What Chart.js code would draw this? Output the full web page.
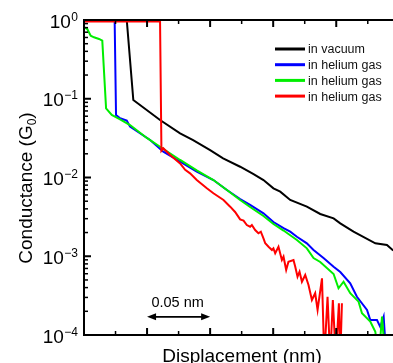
<!DOCTYPE html>
<html>
<head>
<meta charset="utf-8">
<script src="https://cdn.jsdelivr.net/npm/chart.js@4.4.1/dist/chart.umd.min.js"></script>
<style>
  html, body { margin: 0; padding: 0; background: #fff; overflow: hidden; }
  #chart { display: block; }
</style>
</head>
<body>
<canvas id="chart" width="393" height="363"></canvas>
<script>
// Displacement (nm) and conductance (G0)
const vacuumX = [0, 0.0339, 0.0391, 0.0603, 0.0762, 0.0865, 0.1000, 0.1103, 0.1238, 0.1341, 0.1423, 0.1502, 0.1556, 0.1635, 0.1767, 0.1873, 0.1979, 0.2032, 0.2137, 0.2310, 0.2402, 0.2452, 0.2508];
const vacuumG = [1, 1, 0.0964, 0.0537, 0.0364, 0.0299, 0.0223, 0.0175, 0.0137, 0.0111, 0.00929, 0.00729, 0.00661, 0.00518, 0.00426, 0.00344, 0.00303, 0.00262, 0.00205, 0.00146, 0.00139, 0.00118, 0.00100];

const heliumBlueX = [0, 0.0243, 0.0254, 0.0286, 0.0339, 0.0365, 0.0524, 0.0629, 0.0762, 0.0894, 0.1026, 0.1133, 0.1238, 0.1317, 0.1423, 0.1502, 0.1582, 0.1635, 0.1688, 0.1767, 0.1820, 0.1899, 0.1979, 0.2032, 0.2111, 0.2164, 0.2244, 0.2270, 0.2323, 0.2349, 0.2376, 0.2397];
const heliumBlueG = [1, 1, 0.0622, 0.0565, 0.0530, 0.0442, 0.0299, 0.0213, 0.0159, 0.0119, 0.00929, 0.00694, 0.00533, 0.00448, 0.00351, 0.00272, 0.00228, 0.00205, 0.00177, 0.00146, 0.00120, 0.000950, 0.000737, 0.000631, 0.000454, 0.000306, 0.000208, 0.000155, 0.000155, 0.000127, 0.000171, 0.00005];

const heliumGreenX = [0, 0.0026, 0.0053, 0.0079, 0.0119, 0.0145, 0.0175, 0.0220, 0.0286, 0.0365, 0.0498, 0.0603, 0.0762, 0.0894, 0.1026, 0.1133, 0.1238, 0.1317, 0.1423, 0.1502, 0.1582, 0.1688, 0.1767, 0.1820, 0.1873, 0.1979, 0.2018, 0.2058, 0.2111, 0.2177, 0.2204, 0.2270, 0.2310, 0.2336, 0.2363, 0.2389];
const heliumGreenG = [0.815, 0.768, 0.632, 0.603, 0.574, 0.546, 0.0756, 0.0622, 0.0548, 0.0464, 0.0318, 0.0246, 0.0167, 0.0123, 0.00929, 0.00694, 0.00518, 0.00422, 0.00324, 0.00257, 0.00212, 0.00161, 0.00126, 0.000950, 0.000845, 0.000595, 0.000392, 0.000475, 0.000339, 0.000265, 0.000189, 0.000148, 0.000110, 0.00005, 0.000171, 0.00005];

const heliumRedX = [0, 0.0603, 0.0614, 0.0629, 0.0683, 0.0762, 0.0802, 0.0841, 0.0894, 0.0974, 0.1026, 0.1106, 0.1159, 0.1198, 0.1238, 0.1265, 0.1291, 0.1317, 0.1331, 0.1357, 0.1383, 0.1402, 0.1423, 0.1437, 0.1463, 0.1490, 0.1502, 0.1516, 0.1542, 0.1569, 0.1582, 0.1603, 0.1621, 0.1661, 0.1675, 0.1693, 0.1709, 0.1728, 0.1754, 0.1780, 0.1807, 0.1833, 0.1852, 0.1887, 0.1905, 0.1931, 0.1952, 0.1973, 0.1997, 0.2021, 0.2032, 0.2045];
const heliumRedG = [0.96, 0.96, 0.0219, 0.0235, 0.0193, 0.0151, 0.0125, 0.0113, 0.00929, 0.00729, 0.00630, 0.00518, 0.00426, 0.00365, 0.00294, 0.00283, 0.00249, 0.00237, 0.00249, 0.00215, 0.00196, 0.00205, 0.00169, 0.00146, 0.00132, 0.00120, 0.00126, 0.00109, 0.00132, 0.000896, 0.000987, 0.000669, 0.000853, 0.000896, 0.000737, 0.000550, 0.000637, 0.000475, 0.000578, 0.000432, 0.000278, 0.000339, 0.000208, 0.000525, 0.00005, 0.000306, 0.00005, 0.000278, 0.00005, 0.000253, 0.00005, 0.000253];

const seriesLabels = ['in vacuum', 'in helium gas', 'in helium gas', 'in helium gas'];
const seriesColors = ['#000000', '#0000ff', '#00ee00', '#ff0000'];
const yExponents = [0, -1, -2, -3, -4];
const xTitle = 'Displacement (nm)';
const yTitle = 'Conductance (G';
const scaleBarLabel = '0.05 nm';
const scaleBarFrom = 0.05;
const scaleBarTo = 0.10;

const FONT = "'Liberation Sans', Arial, sans-serif";

function toPoints(xs, ys) {
    return xs.map((v, i) => ({ x: v, y: ys[i] }));
}

// axes with inward ticks, tick labels, titles, legend and the scale bar
const decorPlugin = {
    id: 'decor',
    afterDatasetsDraw(chart) {
        const { ctx, chartArea: a, scales: { x, y } } = chart;
        ctx.save();
        ctx.strokeStyle = '#000';
        ctx.fillStyle = '#000';

        // frame (left, top, bottom)
        ctx.lineWidth = 2;
        ctx.beginPath();
        ctx.moveTo(a.right + 2, a.top);
        ctx.lineTo(a.left, a.top);
        ctx.lineTo(a.left, a.bottom);
        ctx.lineTo(a.right + 2, a.bottom);
        ctx.stroke();

        // y ticks
        yExponents.forEach(e => {
            const py = y.getPixelForValue(Math.pow(10, e));
            ctx.lineWidth = 2;
            ctx.beginPath();
            ctx.moveTo(a.left, py);
            ctx.lineTo(a.left + 7, py);
            ctx.stroke();
            if (e < 0) {
                ctx.lineWidth = 1.5;
                for (let k = 2; k <= 9; k++) {
                    const pm = y.getPixelForValue(k * Math.pow(10, e));
                    ctx.beginPath();
                    ctx.moveTo(a.left, pm);
                    ctx.lineTo(a.left + 4, pm);
                    ctx.stroke();
                }
            }
            // label 10^e
            const sup = e === 0 ? '0' : '\u2212' + Math.abs(e);
            ctx.font = '12px ' + FONT;
            ctx.textAlign = 'right';
            ctx.textBaseline = 'alphabetic';
            const supW = ctx.measureText(sup).width;
            ctx.fillText(sup, 78, py + 0.5);
            ctx.font = '19px ' + FONT;
            ctx.fillText('10', 78 - supW - 0.5, py + 7.5);
        });

        // x ticks, bottom and top
        for (let i = 0; i * 0.025 <= x.max + 1e-9; i++) {
            const px = x.getPixelForValue(i * 0.025);
            if (px <= a.left + 1) continue;
            const major = i % 2 === 0;
            const len = major ? 7 : 4;
            ctx.lineWidth = major ? 2 : 1.5;
            ctx.beginPath();
            ctx.moveTo(px, a.bottom);
            ctx.lineTo(px, a.bottom - len);
            ctx.moveTo(px, a.top);
            ctx.lineTo(px, a.top + len);
            ctx.stroke();
        }

        // axis titles
        ctx.font = '19px ' + FONT;
        ctx.textAlign = 'center';
        ctx.textBaseline = 'alphabetic';
        ctx.fillText(xTitle, 242, 362);

        ctx.save();
        ctx.translate(32, 188);
        ctx.rotate(-Math.PI / 2);
        ctx.font = '19px ' + FONT;
        const w1 = ctx.measureText(yTitle).width;
        ctx.font = '12px ' + FONT;
        const w2 = ctx.measureText('0').width;
        ctx.font = '19px ' + FONT;
        const w3 = ctx.measureText(')').width;
        const total = w1 + w2 + w3;
        ctx.textAlign = 'left';
        ctx.fillText(yTitle, -total / 2, 0);
        ctx.font = '12px ' + FONT;
        ctx.fillText('0', -total / 2 + w1, 4);
        ctx.font = '19px ' + FONT;
        ctx.fillText(')', -total / 2 + w1 + w2, 0);
        ctx.restore();

        // legend
        ctx.font = '12.5px ' + FONT;
        ctx.textAlign = 'left';
        ctx.textBaseline = 'middle';
        chart.data.datasets.forEach((ds, i) => {
            const ly = 49 + i * 15.7;
            ctx.strokeStyle = ds.borderColor;
            ctx.lineWidth = 3;
            ctx.beginPath();
            ctx.moveTo(275, ly);
            ctx.lineTo(305, ly);
            ctx.stroke();
            ctx.fillStyle = '#111';
            ctx.fillText(ds.label, 308, ly + 1);
        });

        // scale bar
        const bx1 = x.getPixelForValue(scaleBarFrom);
        const bx2 = x.getPixelForValue(scaleBarTo);
        const by = y.getPixelForValue(1.7e-4);
        ctx.strokeStyle = '#000';
        ctx.fillStyle = '#000';
        ctx.lineWidth = 1.8;
        ctx.beginPath();
        ctx.moveTo(bx1 + 4, by);
        ctx.lineTo(bx2 - 4, by);
        ctx.stroke();
        [[bx1, 1], [bx2, -1]].forEach(([tx, dir]) => {
            ctx.beginPath();
            ctx.moveTo(tx, by);
            ctx.lineTo(tx + dir * 9, by - 3.5);
            ctx.lineTo(tx + dir * 9, by + 3.5);
            ctx.closePath();
            ctx.fill();
        });
        ctx.font = '14.5px ' + FONT;
        ctx.textAlign = 'center';
        ctx.textBaseline = 'alphabetic';
        ctx.fillText(scaleBarLabel, (bx1 + bx2) / 2 - 1, by - 10);

        ctx.restore();
    }
};

const ctx = document.getElementById('chart').getContext('2d');

new Chart(ctx, {
    type: 'scatter',
    data: {
        datasets: [
            { label: seriesLabels[0], data: toPoints(vacuumX, vacuumG), borderColor: seriesColors[0], order: 3 },
            { label: seriesLabels[1], data: toPoints(heliumBlueX, heliumBlueG), borderColor: seriesColors[1], order: 2 },
            { label: seriesLabels[2], data: toPoints(heliumGreenX, heliumGreenG), borderColor: seriesColors[2], order: 1 },
            { label: seriesLabels[3], data: toPoints(heliumRedX, heliumRedG), borderColor: seriesColors[3], order: 0 }
        ].map(ds => Object.assign(ds, {
            showLine: true,
            borderWidth: 2,
            pointRadius: 0,
            tension: 0,
            clip: 0,
            backgroundColor: ds.borderColor
        }))
    },
    options: {
        responsive: false,
        animation: false,
        events: [],
        layout: {
            padding: { left: 84, top: 20, right: 0, bottom: 28 }
        },
        plugins: {
            legend: { display: false },
            tooltip: { enabled: false }
        },
        scales: {
            x: {
                type: 'linear',
                display: false,
                min: 0,
                max: 0.245
            },
            y: {
                type: 'logarithmic',
                display: false,
                min: 1e-4,
                max: 1
            }
        }
    },
    plugins: [decorPlugin]
});
</script>
</body>
</html>
